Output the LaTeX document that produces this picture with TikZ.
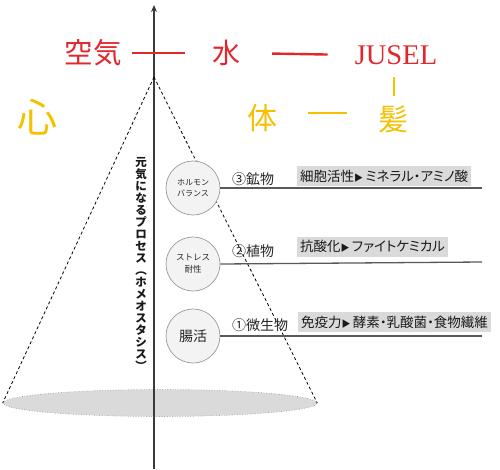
\documentclass[tikz,border=0pt]{standalone}
\usepackage{fontspec}
\usetikzlibrary{shapes.geometric,arrows.meta}
\newfontfamily\jp{Noto Sans CJK JP}
\newfontfamily\jpp{Noto Sans CJK JP}[RawFeature=+palt]
\newfontfamily\serifen{Liberation Serif}
\definecolor{myred}{HTML}{E2262C}
\definecolor{myyel}{HTML}{F5C000}
\definecolor{axisgray}{HTML}{3A3A3A}
\definecolor{boxgray}{HTML}{DADADA}
\definecolor{circfill}{HTML}{F3F3F3}
\definecolor{circline}{HTML}{9A9A9A}
\tikzset{
  redtxt/.style={text=myred, inner sep=0pt},
  yeltxt/.style={text=myyel, inner sep=0pt},
  redline/.style={draw=myred, line width=2.4pt},
  yelline/.style={draw=myyel, line width=2.4pt},
  axisline/.style={draw=axisgray, line width=1.6pt, -{Stealth[length=7pt,width=6pt]}},
  conedash/.style={draw=black, dashed, line width=0.8pt, dash pattern=on 3pt off 2.5pt},
  topic/.style={circle, draw=circline, fill=circfill, line width=0.7pt, minimum size=54pt, inner sep=0pt, align=center, text=black!85},
  hline/.style={draw=black!65, line width=1.3pt},
  numlabel/.style={anchor=west, inner sep=0pt, font=\jp\fontsize{14}{15}\selectfont, text=black!85},
  graybox/.style={anchor=west, fill=boxgray, inner xsep=3pt, inner ysep=0pt, minimum height=20pt, font=\jpp\fontsize{13.5}{14}\selectfont, text=black!90}
}
\begin{document}
\begin{tikzpicture}[x=1pt,y=-1pt]
\useasboundingbox (0,0) rectangle (500,469);
% base ellipse
\node[ellipse, draw=black!45, dotted, line width=0.6pt, fill=boxgray, minimum width=314pt, minimum height=27pt, inner sep=0pt] (base) at (160,403) {};
% axis
\coordinate (axbot) at (154,469);
\coordinate (axtop) at (154,5);
\coordinate (apex) at (154,77);
\draw[axisline] (axbot) -- (axtop);
% cone
\draw[conedash] (apex) -- (base.west);
\draw[conedash] (apex) -- (base.east);
% red row
\node[redtxt, font=\jp\fontsize{28.5}{30}\selectfont] (kuuki) at (93,53) {空気};
\node[redtxt, font=\jp\fontsize{28}{30}\selectfont] (mizu) at (226,53) {水};
\node[redtxt, font=\serifen\fontsize{28.5}{30}\selectfont] (jusel) at (396,55) {JUSEL};
\draw[redline, shorten <=10pt, shorten >=27pt] (kuuki.east) -- (mizu.west);
\draw[redline, shorten <=32pt, shorten >=27pt] (mizu.east) -- (jusel.west);
% yellow row
\node[yeltxt, font=\jp\fontsize{40}{42}\selectfont] (kokoro) at (37,117) {心};
\node[yeltxt, font=\jp\fontsize{30}{32}\selectfont] (tai) at (262,118) {体};
\node[yeltxt, font=\jp\fontsize{30}{32}\selectfont] (kami) at (393,119) {髪};
\draw[yelline, shorten <=31pt, shorten >=31pt] ([yshift=5pt]tai.east) -- ([yshift=6pt]kami.west);
\draw[yelline, line width=2pt, shorten <=12pt, shorten >=9pt] ([xshift=-2pt]jusel.south) -- ([xshift=1pt]kami.north);
% vertical text
\node[align=center, inner sep=0pt, font=\jp\bfseries\fontsize{11.5}{12}\selectfont, text=black!90] (proc) at (141,264) {元\\気\\に\\な\\る\\プ\\ロ\\セ\\ス\\︵\\ホ\\メ\\オ\\ス\\タ\\シ\\ス\\︶};
% horizontal lines ends
\coordinate (e1) at (482,188);
\coordinate (e2) at (482,262);
\coordinate (e3) at (482,336);
% circles
\node[topic, font=\jp\fontsize{8}{11}\selectfont] (c1) at (193,188) {ホルモン\\バランス};
\node[topic, font=\jp\fontsize{8.5}{12}\selectfont] (c2) at (193,264) {ストレス\\耐性};
\node[topic, font=\jp\fontsize{14}{15}\selectfont] (c3) at (193,336) {腸活};
\draw[hline] (c1.east) -- (e1);
\draw[hline] (c2.east) -- (e2);
\draw[hline] (c3.east) -- (e3);
% number labels
\node[numlabel] (l3) at (232,179) {③鉱物};
\node[numlabel] (l2) at (232,251) {②植物};
\node[numlabel] (l1) at (232,325) {①微生物};
% gray boxes
\node[graybox] (b3) at (297,176) {細胞活性{\fontsize{9}{9}\selectfont ▶}\,ミネラル・アミノ酸};
\node[graybox] (b2) at (297,246.5) {抗酸化{\fontsize{9}{9}\selectfont ▶}\,ファイトケミカル};
\node[graybox] (b1) at (298,322) {免疫力{\fontsize{9}{9}\selectfont ▶}\,酵素・乳酸菌・食物繊維};
\end{tikzpicture}
\end{document}
